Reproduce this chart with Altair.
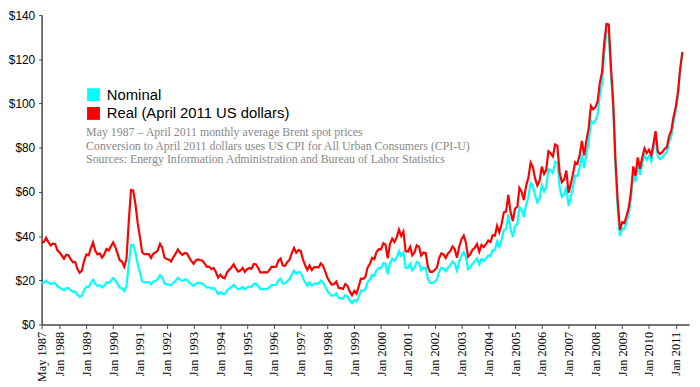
import altair as alt
import pandas as pd

# Monthly average Brent spot price, nominal US$/bbl, May 1987 - April 2011
nominal_1987 = [18.58, 18.86, 19.86, 18.98, 18.31, 18.76, 18.70, 17.27]
nominal_1988 = [16.75, 16.09, 15.41, 16.45, 16.40, 15.50, 14.80, 14.98, 13.37, 12.50, 13.08, 15.48]
nominal_1989 = [17.06, 16.92, 18.66, 20.32, 18.40, 17.51, 17.77, 16.75, 17.63, 19.09, 18.77, 19.82]
nominal_1990 = [21.04, 19.86, 18.39, 16.61, 16.35, 15.10, 17.17, 27.17, 35.92, 36.02, 32.32, 27.28]
nominal_1991 = [23.57, 19.54, 19.08, 19.18, 19.19, 18.17, 19.40, 19.77, 20.45, 22.30, 21.32, 18.57]
nominal_1992 = [18.16, 18.05, 17.63, 18.92, 19.89, 21.16, 20.25, 19.74, 20.27, 20.29, 19.13, 18.17]
nominal_1993 = [17.40, 18.43, 18.79, 18.69, 18.53, 17.66, 16.73, 16.87, 16.14, 16.58, 15.38, 13.74]
nominal_1994 = [14.63, 13.86, 13.69, 15.37, 16.23, 16.97, 17.94, 16.81, 15.90, 16.21, 17.02, 15.87]
nominal_1995 = [16.71, 17.16, 16.97, 18.42, 18.45, 17.32, 15.95, 16.03, 16.12, 16.04, 16.81, 17.86]
nominal_1996 = [17.88, 17.98, 19.91, 20.71, 18.56, 18.48, 19.68, 20.48, 22.63, 24.38, 22.88, 23.73]
nominal_1997 = [23.54, 20.85, 19.13, 17.56, 19.02, 17.58, 18.46, 18.60, 18.46, 19.86, 19.08, 17.13]
nominal_1998 = [15.07, 13.91, 13.00, 13.24, 14.08, 11.99, 11.94, 11.67, 13.32, 12.68, 10.83, 9.64]
nominal_1999 = [11.08, 10.26, 12.49, 15.29, 15.23, 15.86, 19.08, 20.31, 22.50, 22.12, 24.62, 25.49]
nominal_2000 = [25.51, 27.78, 27.49, 22.76, 27.74, 29.80, 28.68, 30.20, 33.14, 30.96, 32.55, 25.66]
nominal_2001 = [25.62, 27.50, 24.50, 25.66, 28.31, 27.85, 24.61, 25.68, 25.62, 20.54, 18.80, 18.71]
nominal_2002 = [19.42, 20.28, 23.70, 25.73, 25.35, 24.08, 25.74, 26.65, 28.40, 27.54, 24.34, 28.33]
nominal_2003 = [31.18, 32.77, 30.61, 25.00, 25.86, 27.65, 28.35, 29.89, 27.11, 29.61, 28.75, 29.81]
nominal_2004 = [31.28, 30.86, 33.63, 33.59, 37.57, 35.18, 38.22, 42.74, 43.20, 49.78, 43.11, 39.60]
nominal_2005 = [44.51, 45.48, 53.10, 51.88, 48.65, 54.35, 57.52, 63.98, 62.91, 58.54, 55.24, 56.86]
nominal_2006 = [62.99, 60.21, 62.06, 70.26, 69.78, 68.56, 73.67, 73.23, 61.96, 57.81, 58.76, 62.47]
nominal_2007 = [53.68, 57.56, 62.05, 67.49, 67.21, 71.05, 76.93, 70.76, 77.17, 82.34, 92.41, 90.93]
nominal_2008 = [92.18, 94.99, 103.64, 109.07, 122.80, 132.32, 132.72, 113.24, 97.23, 71.58, 52.45, 39.95]
nominal_2009 = [43.44, 43.32, 46.54, 50.18, 57.30, 68.61, 64.44, 72.51, 67.65, 72.77, 76.66, 74.46]
nominal_2010 = [76.17, 73.75, 78.83, 84.82, 75.95, 74.76, 75.58, 77.04, 77.84, 82.67, 85.28, 91.45]
nominal_2011 = [96.52, 103.72, 114.64, 123.26]

# US CPI for All Urban Consumers (CPI-U, 1982-84 = 100), May 1987 - April 2011
cpi_1987 = [113.1, 113.5, 113.8, 114.4, 115.0, 115.3, 115.4, 115.4]
cpi_1988 = [115.7, 116.0, 116.5, 117.1, 117.5, 118.0, 118.5, 119.0, 119.8, 120.2, 120.3, 120.5]
cpi_1989 = [121.1, 121.6, 122.3, 123.1, 123.8, 124.1, 124.4, 124.6, 125.0, 125.6, 125.9, 126.1]
cpi_1990 = [127.4, 128.0, 128.7, 128.9, 129.2, 129.9, 130.4, 131.6, 132.7, 133.5, 133.8, 133.8]
cpi_1991 = [134.6, 134.8, 135.0, 135.2, 135.6, 136.0, 136.2, 136.6, 137.2, 137.4, 137.8, 137.9]
cpi_1992 = [138.1, 138.6, 139.3, 139.5, 139.7, 140.2, 140.5, 140.9, 141.3, 141.8, 142.0, 141.9]
cpi_1993 = [142.6, 143.1, 143.6, 144.0, 144.2, 144.4, 144.4, 144.8, 145.1, 145.7, 145.8, 145.8]
cpi_1994 = [146.2, 146.7, 147.2, 147.4, 147.5, 148.0, 148.4, 149.0, 149.4, 149.5, 149.7, 149.7]
cpi_1995 = [150.3, 150.9, 151.4, 151.9, 152.2, 152.5, 152.5, 152.9, 153.2, 153.7, 153.6, 153.5]
cpi_1996 = [154.4, 154.9, 155.7, 156.3, 156.6, 156.7, 157.0, 157.3, 157.8, 158.3, 158.6, 158.6]
cpi_1997 = [159.1, 159.6, 160.0, 160.2, 160.1, 160.3, 160.5, 160.8, 161.2, 161.6, 161.5, 161.3]
cpi_1998 = [161.6, 161.9, 162.2, 162.5, 162.8, 163.0, 163.2, 163.4, 163.6, 164.0, 164.0, 163.9]
cpi_1999 = [164.3, 164.5, 165.0, 166.2, 166.2, 166.2, 166.7, 167.1, 167.9, 168.2, 168.3, 168.3]
cpi_2000 = [168.8, 169.8, 171.2, 171.3, 171.5, 172.4, 172.8, 172.8, 173.7, 174.0, 174.1, 174.0]
cpi_2001 = [175.1, 175.8, 176.2, 176.9, 177.7, 178.0, 177.5, 177.5, 178.3, 177.7, 177.4, 176.7]
cpi_2002 = [177.1, 177.8, 178.8, 179.8, 179.8, 179.9, 180.1, 180.7, 181.0, 181.3, 181.3, 180.9]
cpi_2003 = [181.7, 183.1, 184.2, 183.8, 183.5, 183.7, 183.9, 184.6, 185.2, 185.0, 184.5, 184.3]
cpi_2004 = [185.2, 186.2, 187.4, 188.0, 189.1, 189.7, 189.4, 189.5, 189.9, 190.9, 191.0, 190.3]
cpi_2005 = [190.7, 191.8, 193.3, 194.6, 194.4, 194.5, 195.4, 196.4, 198.8, 199.2, 197.6, 196.8]
cpi_2006 = [198.3, 198.7, 199.8, 201.5, 202.5, 202.9, 203.5, 203.9, 202.9, 201.8, 201.5, 201.8]
cpi_2007 = [202.416, 203.499, 205.352, 206.686, 207.949, 208.352, 208.299, 207.917, 208.490, 208.936, 210.177, 210.036]
cpi_2008 = [211.080, 211.693, 213.528, 214.823, 216.632, 218.815, 219.964, 219.086, 218.783, 216.573, 212.425, 210.228]
cpi_2009 = [211.143, 212.193, 212.709, 213.240, 213.856, 215.693, 215.351, 215.834, 215.969, 216.177, 216.330, 215.949]
cpi_2010 = [216.687, 216.741, 217.631, 218.009, 218.178, 217.965, 218.011, 218.312, 218.439, 218.711, 218.803, 219.179]
cpi_2011 = [220.223, 221.309, 223.467, 224.906]

years = list(range(1987, 2012))
nominal = sum((globals()[f"nominal_{y}"] for y in years), [])
cpi = sum((globals()[f"cpi_{y}"] for y in years), [])
cpi_base = cpi_2011[-1]  # April 2011
real = [n * cpi_base / c for n, c in zip(nominal, cpi)]

months = pd.date_range("1987-05-01", "2011-04-01", freq="MS").strftime("%Y-%m-%d").tolist()

series_names = ["Nominal", "Real (April 2011 US dollars)"]
series_colors = ["#00FFFF", "#FF0000"]

tick_dates = ["1987-05-01"] + [f"{y}-01-01" for y in range(1988, 2012)]
y_ticks = [0, 20, 40, 60, 80, 100, 120, 140]

note_lines = [
    "May 1987 \u2013 April 2011 monthly average Brent spot prices",
    "Conversion to April 2011 dollars uses US CPI for All Urban Consumers (CPI-U)",
    "Sources: Energy Information Administration and Bureau of Labor Statistics",
]

df = pd.DataFrame({
    "month": months * 2,
    "price": nominal + real,
    "series": [series_names[0]] * len(months) + [series_names[1]] * len(months),
    "order": [0] * len(months) + [1] * len(months),
})

x_scale = alt.Scale(type="utc", domain=["1987-05-01", "2011-07-01"], nice=False)
y_scale = alt.Scale(domain=[0, 140], nice=False)

x_enc = alt.X(
    "month:T",
    scale=x_scale,
    axis=alt.Axis(
        values=[alt.DateTime(year=int(d[:4]), month=int(d[5:7]), date=1, utc=True) for d in tick_dates],
        labelExpr="utcFormat(datum.value, '%b %Y')",
        labelAngle=270,
        labelFont="Liberation Serif",
        labelFontSize=12.5,
        labelColor="#000000",
        labelPadding=3,
        tickSize=4,
        tickColor="#444444",
        domainColor="#444444",
        domainWidth=1.5,
        grid=False,
        title=None,
        labelOverlap=False,
    ),
)

y_enc = alt.Y(
    "price:Q",
    scale=y_scale,
    axis=alt.Axis(
        values=y_ticks,
        labelExpr="'$' + datum.value",
        labelFont="Liberation Sans",
        labelFontSize=12,
        labelColor="#000000",
        labelPadding=4,
        tickSize=3,
        tickColor="#444444",
        domainColor="#444444",
        domainWidth=1.5,
        grid=False,
        title=None,
    ),
)

color_scale = alt.Scale(domain=series_names, range=series_colors)

lines = alt.Chart(df).mark_line(strokeWidth=2.2).encode(
    x=x_enc,
    y=y_enc,
    color=alt.Color("series:N", scale=color_scale, legend=None),
    order="order:Q",
)

legend_marks = alt.Chart(df).mark_square(opacity=0, filled=True).encode(
    x=x_enc,
    y=y_enc,
    color=alt.Color(
        "series:N",
        scale=color_scale,
        legend=alt.Legend(
            orient="none",
            legendX=45,
            legendY=73,
            title=None,
            symbolType="square",
            symbolSize=169,
            symbolStrokeWidth=0,
            symbolOpacity=1,
            labelFont="Liberation Sans",
            labelFontSize=15,
            labelColor="#000000",
            labelOffset=6,
            rowPadding=3,
            labelLimit=400,
        ),
    ),
)

notes = alt.Chart(pd.DataFrame({"text": ["\n".join(note_lines)]})).mark_text(
    align="left",
    baseline="alphabetic",
    font="Liberation Serif",
    fontSize=12,
    color="#888888",
    lineBreak="\n",
    lineHeight=14,
).encode(
    text="text:N",
    x=alt.value(45),
    y=alt.value(122),
)

chart = alt.layer(lines, legend_marks, notes).resolve_legend(color="independent").properties(
    width=655,
    height=313,
    autosize=alt.AutoSizeParams(type="none"),
    padding={"left": 34, "top": 5, "right": 3, "bottom": 55},
    background="white",
).configure_view(stroke=None)

chart.save("out.html", embed_options={"renderer": "svg", "actions": False})
